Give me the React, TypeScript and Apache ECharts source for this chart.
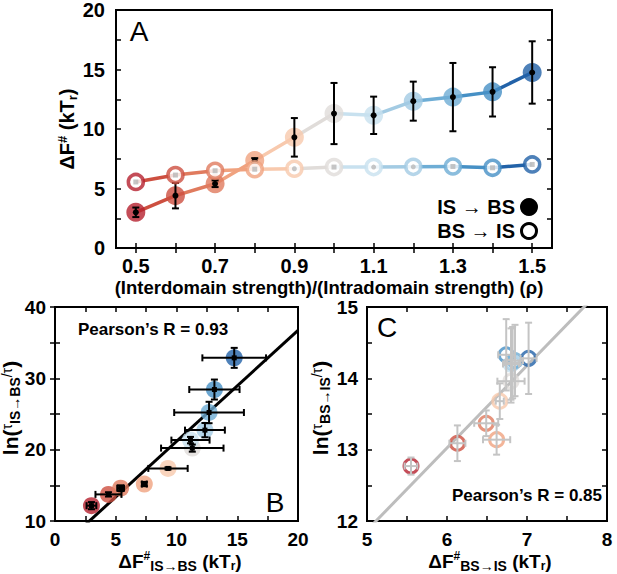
import React, { useEffect, useRef } from 'react';
import * as echarts from 'echarts';

const RHO = ['0.5', '0.6', '0.7', '0.8', '0.9', '1.0', '1.1', '1.2', '1.3', '1.4', '1.5'];
const COLORS = ['#b5202e', '#cd4f40', '#e07b5e', '#f0a27f', '#f8c9ad', '#e0dcd9', '#c8e1ef', '#a3cbe3', '#6eadd5', '#4690c5', '#2262a8'];
const DF_IS_BS = [3.0, 4.4, 5.4, 7.35, 9.3, 11.3, 11.15, 12.34, 12.68, 13.12, 14.75];
const DF_IS_BS_ERR = [0.4, 1.07, 0.28, 0.2, 1.62, 2.57, 1.57, 1.64, 2.87, 2.07, 2.62];
const DF_BS_IS = [5.55, 6.13, 6.49, 6.62, 6.66, 6.8, 6.8, 6.82, 6.85, 6.74, 7.02];
const DF_BS_IS_ERR = [0.08, 0.1, 0.15, 0.17, 0.05, 0.17, 0.1, 0.1, 0.1, 0.1, 0.1];
const LN_TAU_IS_BS = [12.15, 13.73, 14.6, 15.18, 17.37, 20.22, 21.34, 22.74, 25.21, 28.43, 32.87];
const LN_TAU_IS_BS_ERR = [0.5, 0.3, 0.4, 0.3, 0.15, 0.5, 0.45, 1.0, 1.5, 1.4, 1.4];
const LN_TAU_BS_IS = [12.77, 13.09, 13.37, 13.14, 13.68, 13.96, 14.2, 14.22, 14.25, 14.33, 14.28];
const LN_TAU_BS_IS_ERR = [0.12, 0.25, 0.18, 0.21, 0.25, 0.3, 0.5, 0.5, 0.5, 0.5, 0.5];
const INNER = ['rect', 'rect', 'rect', 'rect', 'circle', 'rect', 'circle', 'circle', 'rect', 'rect', 'rect'];
const FIT_B = { slope: 1.557, intercept: 5.59, x0: 0, x1: 20 };
const FIT_C = { slope: 1.154, intercept: 6.1, x0: 5, x1: 8 };
const PEARSON_B = 'Pearson’s R = 0.93';
const PEARSON_C = 'Pearson’s R = 0.85';

const FONT = '"Liberation Sans", Arial, Helvetica, sans-serif';

function tickAxis(gridIndex: number, position: string, extra: any) {
  return {
    gridIndex,
    position,
    axisLine: { show: false },
    axisTick: { show: true, inside: true, length: 5, lineStyle: { color: '#000', width: 1.5 } },
    splitLine: { show: false },
    ...extra,
  };
}

const labelStyle = (size: number, margin: number, fmt?: (v: any) => string) => ({
  show: true,
  color: '#000',
  fontFamily: FONT,
  fontWeight: 'bold',
  fontSize: size,
  margin,
  ...(fmt ? { formatter: fmt } : {}),
});

const dfRich = (main: number) => ({
  a: { font: `bold ${main}px ${FONT}`, fill: '#000' },
  sup: { font: `bold ${Math.round(main * 0.65)}px ${FONT}`, fill: '#000', padding: [0, 0, Math.round(main * 0.5), 0] },
  sub: { font: `bold ${Math.round(main * 0.72)}px ${FONT}`, fill: '#000', padding: [Math.round(main * 0.5), 0, 0, 0] },
  subr: { font: `bold ${Math.round(main * 0.65)}px ${FONT}`, fill: '#000', padding: [Math.round(main * 0.5), 0, 0, 0] },
});

const lnRich = {
  a: { font: `bold 21px ${FONT}`, fill: '#000' },
  t: { font: `normal 14px ${FONT}`, fill: '#000', padding: [0, 0, 6, 0] },
  sub: { font: `bold 14px ${FONT}`, fill: '#000', padding: [9, 0, 0, 0] },
};

export default function App() {
  const ref = useRef<HTMLDivElement>(null);
  useEffect(() => {
    if (!ref.current) return;
    const chart = echarts.init(ref.current, null, { renderer: 'svg' });

    const segSeries = (vals: number[], z: number) =>
      vals.slice(1).map((v, k) => ({
        type: 'line',
        xAxisIndex: 0,
        yAxisIndex: 0,
        data: [[k, vals[k]], [k + 1, v]],
        symbol: 'none',
        z,
        lineStyle: { color: COLORS[k + 1], width: 3.5 },
        silent: true,
      }));

    const errA = {
      type: 'custom',
      xAxisIndex: 0,
      yAxisIndex: 0,
      z: 4,
      data: DF_IS_BS.map((v, i) => [i, v, DF_IS_BS_ERR[i]]),
      renderItem: (params: any, api: any) => {
        const i = api.value(0), y = api.value(1), e = api.value(2);
        const t = api.coord([i, y + e]);
        const b = api.coord([i, y - e]);
        const c = api.coord([i, y]);
        const cap = 3.5;
        const st = { stroke: '#000', lineWidth: 2 };
        return {
          type: 'group',
          children: [
            { type: 'line', shape: { x1: t[0], y1: t[1], x2: b[0], y2: b[1] }, style: st },
            { type: 'line', shape: { x1: t[0] - cap, y1: t[1], x2: t[0] + cap, y2: t[1] }, style: st },
            { type: 'line', shape: { x1: b[0] - cap, y1: b[1], x2: b[0] + cap, y2: b[1] }, style: st },
            { type: 'circle', shape: { cx: c[0], cy: c[1], r: 3 }, style: { fill: '#000' } },
          ],
        };
      },
    };

    const crossErr = (xi: number, yi: number, xs: number[], ys: number[], xe: number[], ye: number[], color: string, center: boolean, z: number) => ({
      type: 'custom',
      xAxisIndex: xi,
      yAxisIndex: yi,
      z,
      data: xs.map((x, i) => [x, ys[i], xe[i], ye[i]]),
      renderItem: (params: any, api: any) => {
        const x = api.value(0), y = api.value(1), ex = api.value(2), ey = api.value(3);
        const l = api.coord([x - ex, y]);
        const r = api.coord([x + ex, y]);
        const t = api.coord([x, y + ey]);
        const b = api.coord([x, y - ey]);
        const c = api.coord([x, y]);
        const cap = 3.5;
        const st = { stroke: color, lineWidth: 2 };
        const ch: any[] = [
          { type: 'line', shape: { x1: l[0], y1: l[1], x2: r[0], y2: r[1] }, style: st },
          { type: 'line', shape: { x1: l[0], y1: l[1] - cap, x2: l[0], y2: l[1] + cap }, style: st },
          { type: 'line', shape: { x1: r[0], y1: r[1] - cap, x2: r[0], y2: r[1] + cap }, style: st },
          { type: 'line', shape: { x1: t[0], y1: t[1], x2: b[0], y2: b[1] }, style: st },
          { type: 'line', shape: { x1: t[0] - cap, y1: t[1], x2: t[0] + cap, y2: t[1] }, style: st },
          { type: 'line', shape: { x1: b[0] - cap, y1: b[1], x2: b[0] + cap, y2: b[1] }, style: st },
        ];
        if (center) ch.push({ type: 'rect', shape: { x: c[0] - 2.5, y: c[1] - 2.5, width: 5, height: 5 }, style: { fill: '#000' } });
        return { type: 'group', children: ch };
      },
    });

    const catTick = { show: true, inside: true, length: 5, alignWithLabel: true, interval: 0, lineStyle: { color: '#000', width: 1.5 } };

    const option: any = {
      animation: false,
      backgroundColor: '#fff',
      grid: [
        { left: 116, top: 7, width: 436, height: 241, show: true, borderColor: '#000', borderWidth: 2, backgroundColor: 'transparent' },
        { left: 55, top: 307, width: 243, height: 214, show: true, borderColor: '#000', borderWidth: 2, backgroundColor: 'transparent' },
        { left: 367, top: 307, width: 240, height: 214, show: true, borderColor: '#000', borderWidth: 2, backgroundColor: 'transparent' },
      ],
      xAxis: [
        tickAxis(0, 'bottom', { type: 'category', data: RHO, boundaryGap: true, axisTick: catTick, axisLabel: { ...labelStyle(20, 8), interval: 1 } }),
        tickAxis(0, 'top', { type: 'category', data: RHO, boundaryGap: true, axisTick: catTick, axisLabel: { show: false } }),
        tickAxis(1, 'bottom', { type: 'value', min: 0, max: 20, interval: 2.5, axisLabel: labelStyle(19, 9, (v: number) => (v % 5 === 0 ? String(v) : '')) }),
        tickAxis(1, 'top', { type: 'value', min: 0, max: 20, interval: 2.5, axisLabel: { show: false } }),
        tickAxis(2, 'bottom', { type: 'value', min: 5, max: 8, interval: 0.5, axisLabel: labelStyle(19, 9, (v: number) => (Number.isInteger(v) ? String(v) : '')) }),
        tickAxis(2, 'top', { type: 'value', min: 5, max: 8, interval: 0.5, axisLabel: { show: false } }),
      ],
      yAxis: [
        tickAxis(0, 'left', { type: 'value', min: 0, max: 20, interval: 2.5, axisLabel: labelStyle(20, 11, (v: number) => (v % 5 === 0 ? String(v) : '')) }),
        tickAxis(0, 'right', { type: 'value', min: 0, max: 20, interval: 2.5, axisLabel: { show: false } }),
        tickAxis(1, 'left', { type: 'value', min: 10, max: 40, interval: 5, axisLabel: labelStyle(19, 9, (v: number) => (v % 10 === 0 ? String(v) : '')) }),
        tickAxis(1, 'right', { type: 'value', min: 10, max: 40, interval: 5, axisLabel: { show: false } }),
        tickAxis(2, 'left', { type: 'value', min: 12, max: 15, interval: 0.5, axisLabel: labelStyle(19, 9, (v: number) => (Number.isInteger(v) ? String(v) : '')) }),
        tickAxis(2, 'right', { type: 'value', min: 12, max: 15, interval: 0.5, axisLabel: { show: false } }),
      ],
      series: [
        ...segSeries(DF_IS_BS, 2),
        {
          type: 'scatter', xAxisIndex: 0, yAxisIndex: 0, z: 3, symbol: 'circle', symbolSize: 19,
          data: DF_IS_BS.map((v, i) => ({ value: [i, v], itemStyle: { color: COLORS[i] } })),
        },
        errA,
        ...segSeries(DF_BS_IS, 5),
        {
          type: 'scatter', xAxisIndex: 0, yAxisIndex: 0, z: 6, symbol: 'circle', symbolSize: 15,
          data: DF_BS_IS.map((v, i) => ({ value: [i, v], itemStyle: { color: '#fff', borderColor: COLORS[i], borderWidth: 3.5 } })),
        },
        {
          type: 'scatter', xAxisIndex: 0, yAxisIndex: 0, z: 7, symbolSize: 5,
          data: DF_BS_IS.map((v, i) => ({ value: [i, v], symbol: INNER[i], itemStyle: { color: '#b8b8b8' } })),
        },
        // Panel B
        {
          type: 'line', xAxisIndex: 2, yAxisIndex: 2, z: 2, symbol: 'none', clip: true,
          data: [FIT_B.x0, FIT_B.x1].map((x) => [x, FIT_B.slope * x + FIT_B.intercept]),
          lineStyle: { color: '#000', width: 3 },
        },
        {
          type: 'scatter', xAxisIndex: 2, yAxisIndex: 2, z: 3, symbol: 'circle', symbolSize: 17,
          data: DF_IS_BS.map((x, i) => ({ value: [x, LN_TAU_IS_BS[i]], itemStyle: { color: COLORS[i] } })),
        },
        crossErr(2, 2, DF_IS_BS, LN_TAU_IS_BS, DF_IS_BS_ERR, LN_TAU_IS_BS_ERR, '#000', true, 4),
        // Panel C
        {
          type: 'line', xAxisIndex: 4, yAxisIndex: 4, z: 2, symbol: 'none', clip: true,
          data: [FIT_C.x0, FIT_C.x1].map((x) => [x, FIT_C.slope * x + FIT_C.intercept]),
          lineStyle: { color: '#bdbdbd', width: 3 },
        },
        {
          type: 'scatter', xAxisIndex: 4, yAxisIndex: 4, z: 3, symbol: 'circle', symbolSize: 14,
          data: DF_BS_IS.map((x, i) => ({ value: [x, LN_TAU_BS_IS[i]], itemStyle: { color: 'rgba(255,255,255,0)', borderColor: COLORS[i], borderWidth: 3 } })),
        },
        crossErr(4, 4, DF_BS_IS, LN_TAU_BS_IS, DF_BS_IS_ERR, LN_TAU_BS_IS_ERR, '#c4c4c4', false, 4),
      ],
      graphic: [
        { type: 'text', x: 139, y: 31, z: 10, style: { text: 'A', font: `normal 28px ${FONT}`, fill: '#000', align: 'center', verticalAlign: 'middle' } },
        { type: 'text', x: 515, y: 207, z: 10, style: { text: 'IS → BS', font: `bold 20px ${FONT}`, fill: '#000', align: 'right', verticalAlign: 'middle' } },
        { type: 'circle', z: 10, shape: { cx: 529, cy: 207, r: 9 }, style: { fill: '#000' } },
        { type: 'text', x: 515, y: 231, z: 10, style: { text: 'BS → IS', font: `bold 20px ${FONT}`, fill: '#000', align: 'right', verticalAlign: 'middle' } },
        { type: 'circle', z: 10, shape: { cx: 529, cy: 231, r: 7.5 }, style: { fill: '#fff', stroke: '#000', lineWidth: 3 } },
        {
          type: 'text', x: 329, y: 287, z: 10,
          style: { text: '(Interdomain strength)/(Intradomain strength) (ρ)', font: `bold 18.5px ${FONT}`, fill: '#000', align: 'center', verticalAlign: 'middle' },
        },
        {
          type: 'text', x: 67, y: 129, rotation: Math.PI / 2, z: 10,
          style: { text: '{a|ΔF}{sup|#}{a| (kT}{subr|r}{a|)}', align: 'center', verticalAlign: 'middle', rich: dfRich(20) },
        },
        // Panel B texts
        { type: 'text', x: 78, y: 329, z: 10, style: { text: PEARSON_B, font: `bold 17px ${FONT}`, fill: '#000', align: 'left', verticalAlign: 'middle' } },
        { type: 'text', x: 275, y: 502, z: 10, style: { text: 'B', font: `normal 28px ${FONT}`, fill: '#000', align: 'center', verticalAlign: 'middle' } },
        {
          type: 'text', x: 180, y: 561, z: 10,
          style: { text: '{a|ΔF}{sup|#}{sub|IS→BS}{a| (kT}{subr|r}{a|)}', align: 'center', verticalAlign: 'middle', rich: dfRich(19) },
        },
        {
          type: 'text', x: 10, y: 408, rotation: Math.PI / 2, z: 10,
          style: { text: '{a|ln(}{t|τ}{sub|IS→BS}{t|/τ}{a|)}', align: 'center', verticalAlign: 'middle', rich: lnRich },
        },
        // Panel C texts
        { type: 'text', x: 387, y: 327, z: 10, style: { text: 'C', font: `normal 28px ${FONT}`, fill: '#000', align: 'center', verticalAlign: 'middle' } },
        { type: 'text', x: 602, y: 495, z: 10, style: { text: PEARSON_C, font: `bold 17px ${FONT}`, fill: '#000', align: 'right', verticalAlign: 'middle' } },
        {
          type: 'text', x: 490, y: 561, z: 10,
          style: { text: '{a|ΔF}{sup|#}{sub|BS→IS}{a| (kT}{subr|r}{a|)}', align: 'center', verticalAlign: 'middle', rich: dfRich(19) },
        },
        {
          type: 'text', x: 320, y: 408, rotation: Math.PI / 2, z: 10,
          style: { text: '{a|ln(}{t|τ}{sub|BS→IS}{t|/τ}{a|)}', align: 'center', verticalAlign: 'middle', rich: lnRich },
        },
      ],
    };
    chart.setOption(option);
    return () => chart.dispose();
  }, []);
  return <div ref={ref} style={{ position: 'fixed', left: 0, top: 0, width: 617, height: 574, background: '#fff' }} />;
}
